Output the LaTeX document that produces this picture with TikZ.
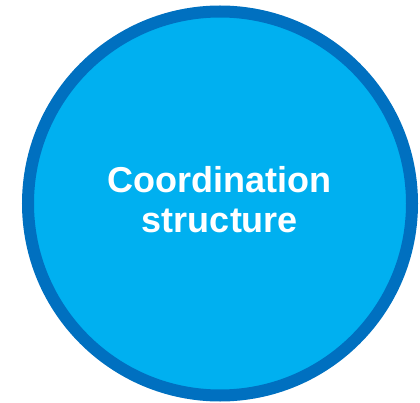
\documentclass[tikz,border=0pt]{standalone}
\usepackage{fontspec}
\setmainfont{Liberation Sans}
\definecolor{fillblue}{HTML}{00B0F0}
\definecolor{edgeblue}{HTML}{0070C0}
\begin{document}
\begin{tikzpicture}[x=1pt,y=1pt,
  lbl/.style={text=white,font=\fontsize{36}{43}\selectfont\bfseries,anchor=base,inner sep=0pt}]
\useasboundingbox (0,0) rectangle (420,402);
\node[circle,draw=edgeblue,fill=fillblue,line width=12pt,minimum size=384pt,inner sep=0pt] (c) at (220,198.5) {};
\node[lbl] (l1) at (219,209) {Coordination};
\node[lbl] (l2) at (220,169) {structure};
\end{tikzpicture}
\end{document}
